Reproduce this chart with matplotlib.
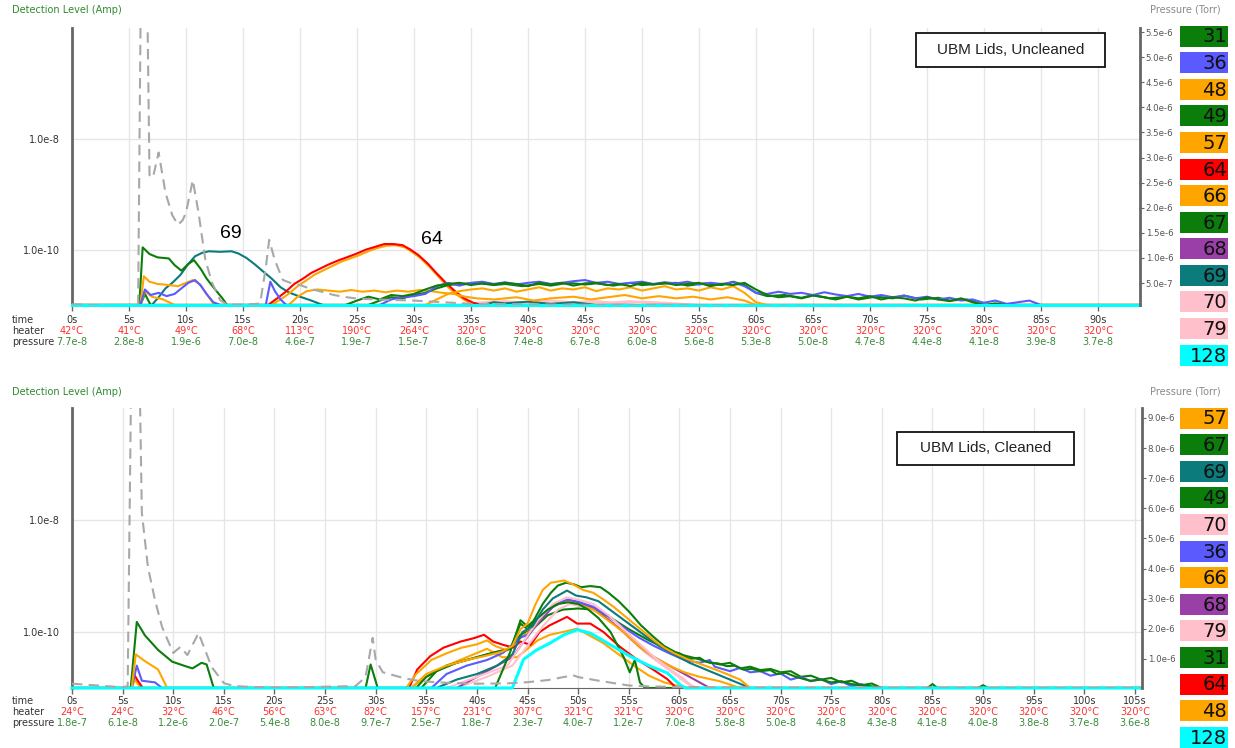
import numpy as np
import matplotlib.pyplot as plt
from matplotlib.patches import Rectangle
from matplotlib.ticker import NullLocator, FuncFormatter

W, H = 1235, 748

# ---- tick rows (time / heater / pressure) ----
top_ticks = list(range(0, 95, 5))
top_heater = [42, 41, 49, 68, 113, 190, 264] + [320] * 12
top_tick_pressure = [7.7e-8, 2.8e-8, 1.9e-6, 7.0e-8, 4.6e-7, 1.9e-7, 1.5e-7, 8.6e-8, 7.4e-8,
                     6.7e-8, 6.0e-8, 5.6e-8, 5.3e-8, 5.0e-8, 4.7e-8, 4.4e-8, 4.1e-8, 3.9e-8, 3.7e-8]

bot_ticks = list(range(0, 110, 5))
bot_heater = [24, 24, 32, 46, 56, 63, 82, 157, 231, 307, 321, 321] + [320] * 10
bot_tick_pressure = [1.8e-7, 6.1e-8, 1.2e-6, 2.0e-7, 5.4e-8, 8.0e-8, 9.7e-7, 2.5e-7, 1.8e-7, 2.3e-7,
                     4.0e-7, 1.2e-7, 7.0e-8, 5.8e-8, 5.0e-8, 4.6e-8, 4.3e-8, 4.1e-8, 4.0e-8, 3.8e-8,
                     3.7e-8, 3.6e-8]

# pressure trace between the tick readings (Torr)
top_press_extra = [(5.8, 5e-8), (6.1, 8e-6), (6.5, 8e-6), (6.8, 2.65e-6), (7.1, 2.6e-6), (7.6, 3.1e-6),
                   (8.2, 2.3e-6), (8.8, 1.85e-6), (9.3, 1.66e-6), (9.7, 1.75e-6), (10.6, 2.55e-6),
                   (11.1, 1.9e-6), (11.7, 0.96e-6), (12.3, 0.5e-6), (13.0, 0.16e-6), (13.6, 7e-8),
                   (16.5, 9e-8), (17.0, 0.8e-6), (17.3, 1.36e-6), (17.8, 0.95e-6), (18.5, 0.56e-6),
                   (19.2, 0.5e-6), (21, 0.38e-6), (22, 0.32e-6), (23, 0.26e-6), (24, 0.22e-6),
                   (27, 0.17e-6), (93.7, 3.6e-8)]
bot_press_extra = [(5.5, 1.0e-7), (5.9, 1.2e-5), (6.6, 1.2e-5), (6.9, 5.85e-6), (7.5, 4.05e-6),
                   (8.2, 2.95e-6), (8.9, 2.06e-6), (10.7, 1.4e-6), (11.4, 1.13e-6), (12.5, 1.86e-6),
                   (13.8, 7.3e-7), (16, 1.0e-7), (18, 7e-8), (22, 6e-8), (28, 1.0e-7), (29.0, 4e-7),
                   (29.7, 1.7e-6), (30.7, 5.6e-7), (32.4, 4.0e-7), (33.7, 3.0e-7), (37, 2.1e-7),
                   (43, 1.9e-7), (47, 3.0e-7), (49.5, 4.6e-7), (52, 2.8e-7), (57, 9e-8), (105.7, 3.6e-8)]

# ---- ion currents, (time s, log10 Amp) ----
u31 = [(0, -11), (24, -11), (25, -10.92), (26, -10.85), (27, -10.9), (28, -10.82), (29, -10.84), (30, -10.8),
       (31, -10.72), (32, -10.65), (33, -10.62), (34, -10.6), (35, -10.64), (36, -10.61), (37, -10.63),
       (38, -10.6), (39, -10.62), (40, -10.66), (41, -10.6), (42, -10.63), (43, -10.6), (44, -10.65),
       (45, -10.61), (46, -10.6), (47, -10.64), (48, -10.62), (49, -10.66), (50, -10.6), (51, -10.63),
       (52, -10.6), (53, -10.64), (54, -10.62), (55, -10.6), (56, -10.66), (57, -10.62), (58, -10.64),
       (59, -10.6), (60, -10.72), (61, -10.82), (62, -10.86), (63, -10.84), (64, -10.88), (65, -10.83),
       (66, -10.86), (67, -10.9), (68, -10.85), (69, -10.88), (70, -10.84), (71, -10.9), (72, -10.86),
       (73, -10.88), (74, -10.92), (75, -10.86), (76, -10.9), (77, -10.93), (78, -10.88), (79, -10.95),
       (80, -11), (81, -10.97), (82, -11), (93.7, -11)]
u36 = [(0, -11), (6.0, -11), (6.4, -10.72), (6.9, -10.82), (7.6, -10.78), (8.3, -10.84), (9.0, -10.8),
       (9.6, -10.7), (10.2, -10.6), (10.8, -10.55), (11.3, -10.65), (11.8, -10.8), (12.4, -10.95), (13, -11),
       (17.0, -11), (17.4, -10.58), (17.8, -10.75), (18.3, -10.9), (18.8, -11), (27, -11), (28, -10.9),
       (29, -10.86), (30, -10.84), (31, -10.8), (32, -10.66), (33, -10.6), (34, -10.65), (35, -10.6),
       (36, -10.58), (37, -10.62), (38, -10.59), (39, -10.63), (40, -10.6), (41, -10.58), (42, -10.62),
       (43, -10.6), (44, -10.57), (45, -10.55), (46, -10.6), (47, -10.58), (48, -10.62), (49, -10.6),
       (50, -10.58), (51, -10.62), (52, -10.59), (53, -10.61), (54, -10.58), (55, -10.63), (56, -10.6),
       (57, -10.62), (58, -10.59), (59, -10.66), (60, -10.78), (61, -10.8), (62, -10.76), (63, -10.8),
       (64, -10.78), (65, -10.82), (66, -10.77), (67, -10.81), (68, -10.84), (69, -10.8), (70, -10.85),
       (71, -10.82), (72, -10.86), (73, -10.83), (74, -10.88), (75, -10.85), (76, -10.9), (77, -10.87),
       (78, -10.92), (79, -10.9), (80, -10.96), (81, -10.92), (82, -10.98), (83, -10.95), (84, -10.92),
       (85, -11), (93.7, -11)]
u48 = [(0, -11), (6.0, -11), (6.4, -10.75), (7, -10.85), (8, -10.9), (9, -11), (31, -11), (32, -10.9),
       (33, -10.8), (34, -10.75), (35, -10.72), (36, -10.7), (37, -10.74), (38, -10.7), (39, -10.76),
       (40, -10.72), (41, -10.68), (42, -10.74), (43, -10.7), (44, -10.72), (45, -10.68), (46, -10.75),
       (47, -10.7), (48, -10.72), (49, -10.68), (50, -10.74), (51, -10.7), (52, -10.66), (53, -10.72),
       (54, -10.7), (55, -10.74), (56, -10.68), (57, -10.72), (58, -10.66), (59, -10.78), (60, -10.95),
       (61, -11), (93.7, -11)]
u49 = [(0, -11), (6.0, -11), (6.4, -10.8), (6.9, -11), (26, -11), (27, -10.92), (28, -10.86), (29, -10.88),
       (30, -10.82), (31, -10.78), (32, -10.7), (33, -10.64), (34, -10.62), (35.5, -10.6), (37, -10.64),
       (38, -10.62), (39.5, -10.66), (41, -10.62), (42, -10.65), (43.5, -10.6), (45, -10.63), (46, -10.61),
       (47.5, -10.65), (49, -10.6), (50, -10.64), (51.5, -10.62), (53, -10.6), (54, -10.65), (55.5, -10.61),
       (57, -10.64), (58, -10.58), (59, -10.64), (60, -10.78), (61, -10.84), (62.5, -10.82), (64, -10.87),
       (65, -10.82), (66.5, -10.88), (68, -10.85), (69, -10.9), (70.5, -10.85), (72, -10.88), (73, -10.83),
       (74.5, -10.9), (76, -10.87), (77, -10.92), (78.5, -10.9), (80, -11), (93.7, -11)]
u57 = [(0, -11), (6.0, -11), (6.3, -10.48), (6.8, -10.58), (7.5, -10.62), (8.5, -10.64), (9.3, -10.66),
       (10.0, -10.6), (10.6, -10.55), (11.2, -10.62), (11.8, -10.8), (12.5, -11), (19.0, -11), (19.8, -10.85),
       (20.6, -10.75), (21.5, -10.72), (22.5, -10.74), (23.5, -10.76), (24.5, -10.73), (25.5, -10.76),
       (26.5, -10.74), (27.5, -10.77), (28.5, -10.74), (29.5, -10.76), (30.5, -10.73), (31.5, -10.75),
       (32.5, -10.78), (33.5, -10.8), (34.5, -10.85), (35.5, -10.88), (37, -10.9), (39, -10.86),
       (40.5, -10.92), (42, -10.88), (44, -10.85), (45.5, -10.9), (47, -10.86), (48.5, -10.82), (50, -10.88),
       (51.5, -10.84), (53, -10.88), (54.5, -10.85), (56, -10.9), (57.5, -10.86), (59, -10.92), (60, -11),
       (93.7, -11)]
u64 = [(0, -11), (17.2, -11), (18, -10.88), (18.7, -10.77), (19.5, -10.62), (20.3, -10.52), (21, -10.42),
       (21.7, -10.35), (22.5, -10.27), (23.3, -10.2), (24.1, -10.14), (25, -10.07), (25.8, -10.0),
       (26.6, -9.95), (27.4, -9.9), (28.2, -9.9), (29.0, -9.92), (29.7, -10.0), (30.4, -10.1), (31.2, -10.25),
       (32, -10.43), (32.8, -10.6), (33.6, -10.75), (34.4, -10.88), (35.2, -10.96), (36, -11), (93.7, -11)]
u66 = [(0, -11), (17.5, -11), (18.3, -10.9), (19, -10.8), (19.8, -10.66), (20.6, -10.55), (21.3, -10.45),
       (22, -10.38), (22.8, -10.3), (23.6, -10.22), (24.4, -10.16), (25.2, -10.1), (26, -10.03),
       (26.8, -9.97), (27.6, -9.93), (28.4, -9.92), (29.2, -9.96), (29.9, -10.05), (30.6, -10.16),
       (31.4, -10.32), (32.2, -10.5), (33, -10.68), (33.8, -10.82), (34.6, -10.93), (35.4, -11), (93.7, -11)]
u67 = [(0, -11), (5.9, -11), (6.2, -9.96), (6.8, -10.08), (7.5, -10.14), (8.5, -10.16), (9.0, -10.28),
       (9.6, -10.38), (10.2, -10.26), (10.7, -10.19), (11.3, -10.35), (11.8, -10.52), (12.4, -10.68),
       (13.2, -10.88), (13.6, -11), (93.7, -11)]
u68 = [(0, -11), (93.7, -11)]
u69 = [(0, -11), (7.0, -11), (7.6, -10.86), (8.2, -10.7), (8.8, -10.6), (9.5, -10.46), (10.2, -10.26),
       (10.8, -10.12), (11.4, -10.06), (12, -10.03), (13, -10.04), (14, -10.03), (14.6, -10.07),
       (15.3, -10.15), (16, -10.26), (16.8, -10.4), (17.5, -10.52), (18.3, -10.68), (19, -10.77), (20, -10.85),
       (21, -10.92), (22, -11), (36, -11), (37, -10.95), (38, -10.97), (40, -10.94), (42, -10.98),
       (44, -10.95), (46, -11), (93.7, -11)]
u70 = [(0, -11), (34, -11), (36, -10.95), (38, -10.93), (40, -10.96), (42, -10.92), (44, -10.95),
       (46, -10.93), (48, -10.97), (50, -10.94), (52, -10.96), (55, -11), (93.7, -11)]
u79 = [(0, -11), (37, -11), (39, -10.96), (41, -10.94), (43, -10.97), (45, -10.94), (47, -10.96),
       (49, -10.93), (51, -10.97), (53, -11), (93.7, -11)]
u128 = [(0, -11), (93.7, -11)]

b31 = [(0, -11), (34.5, -11), (36, -10.7), (38, -10.55), (40, -10.45), (42, -10.35), (43.3, -10.3),
       (44.3, -10.05), (45.5, -9.95), (47, -9.7), (48.5, -9.6), (50, -9.58), (51.5, -9.6), (53, -9.72),
       (55, -9.95), (57, -10.15), (59, -10.33), (60, -10.38), (61, -10.48), (62, -10.46), (62.5, -10.52),
       (64, -10.58), (65, -10.55), (66, -10.65), (67, -10.62), (68, -10.68), (69, -10.66), (70, -10.72),
       (71, -10.7), (72, -10.8), (73, -10.78), (74, -10.85), (75, -10.82), (76, -10.9), (77, -10.87),
       (78, -10.95), (79, -10.92), (80, -11), (84.5, -11), (85, -10.93), (85.5, -11), (89.5, -11),
       (90, -10.95), (90.5, -11), (105.7, -11)]
b36 = [(0, -11), (5.9, -11), (6.4, -10.6), (6.9, -10.87), (8.2, -10.9), (8.9, -11), (35.5, -11),
       (37, -10.75), (39, -10.6), (41, -10.5), (42.6, -10.37), (44.3, -10.1), (45, -10.05), (46.5, -9.7),
       (48, -9.48), (49, -9.42), (50, -9.46), (51.5, -9.55), (53, -9.72), (54.5, -9.92), (56, -10.1),
       (57.5, -10.25), (59, -10.38), (60.5, -10.5), (62, -10.55), (63, -10.5), (63.5, -10.62), (65, -10.7),
       (66, -10.64), (67, -10.72), (68, -10.7), (69, -10.78), (70, -10.74), (71, -10.85), (72, -10.8),
       (73, -10.88), (74, -10.84), (75, -10.93), (76, -10.88), (77, -10.97), (78, -10.93), (79, -11),
       (105.7, -11)]
b48 = [(0, -11), (5.9, -11), (6.2, -10.85), (6.8, -11), (33.5, -11), (35, -10.8), (37, -10.6), (39, -10.45),
       (41, -10.3), (42.5, -10.45), (44, -10.45), (45, -10.3), (46, -10.15), (47.2, -10.05), (48.5, -10.0),
       (49.9, -9.94), (51, -10.05), (52.5, -10.2), (54, -10.4), (55.5, -10.6), (57, -10.78), (58.5, -10.9),
       (60, -10.97), (61, -11), (105.7, -11)]
b49 = [(0, -11), (5.8, -11), (6.4, -9.82), (7.2, -10.06), (8.5, -10.32), (9.9, -10.53), (11.2, -10.61),
       (11.9, -10.65), (12.8, -10.55), (13.3, -10.58), (14.0, -11), (29.0, -11), (29.5, -10.58), (30.2, -11),
       (34, -11), (35, -10.8), (37, -10.6), (39, -10.5), (41, -10.4), (43.3, -10.3), (44.3, -9.85),
       (45, -9.95), (46, -9.75), (47, -9.6), (48, -9.5), (49, -9.47), (50, -9.5), (51, -9.6), (52, -9.75),
       (53.2, -10.0), (54.5, -10.45), (55.1, -10.72), (55.6, -10.5), (56.1, -10.9), (56.6, -11), (105.7, -11)]
b57 = [(0, -11), (5.9, -11), (6.3, -10.4), (7.2, -10.52), (8.5, -10.67), (9.4, -11), (33.5, -11),
       (35, -10.75), (37, -10.6), (39, -10.5), (41, -10.42), (42.5, -10.35), (43.5, -10.25), (44.3, -9.95),
       (45, -9.85), (45.8, -9.5), (46.5, -9.25), (47.3, -9.12), (48.0, -9.1), (48.6, -9.08), (49.5, -9.15),
       (50.5, -9.25), (51.5, -9.3), (52.5, -9.42), (53.5, -9.55), (54.5, -9.7), (55.5, -9.85), (56.5, -10.0),
       (57.5, -10.15), (58.5, -10.28), (59.5, -10.38), (61, -10.5), (62.5, -10.6), (64, -10.7), (66, -10.85),
       (67, -11), (105.7, -11)]
b64 = [(0, -11), (5.8, -11), (6.1, -10.75), (6.5, -10.87), (7, -11), (33.3, -11), (34.1, -10.67),
       (35.4, -10.43), (36.7, -10.28), (38.4, -10.17), (39.7, -10.11), (40.7, -10.05), (41.6, -10.17),
       (42.6, -10.23), (43.6, -10.28), (44.3, -10.17), (45.3, -10.23), (46.2, -10.0), (47.2, -9.88),
       (48.9, -9.73), (49.9, -9.85), (51.2, -9.85), (52.5, -10.0), (54.1, -10.26), (55.8, -10.49),
       (57.4, -10.67), (58.8, -10.84), (59.7, -11), (105.7, -11)]
b66 = [(0, -11), (33.0, -11), (34.0, -10.75), (35.5, -10.5), (37, -10.38), (38.5, -10.28), (40, -10.22),
       (41, -10.15), (41.8, -10.25), (43, -10.33), (44.3, -10.1), (45.5, -9.95), (46.5, -9.7), (47.5, -9.52),
       (48.8, -9.45), (50, -9.5), (51.5, -9.6), (53, -9.8), (54.5, -10.0), (56, -10.25), (57.5, -10.45),
       (59, -10.6), (60.5, -10.72), (62, -10.8), (64, -10.88), (66, -11), (105.7, -11)]
b67 = [(0, -11), (41.8, -11), (42.5, -10.7), (43.3, -10.35), (44.3, -9.79), (45.0, -9.9), (45.6, -9.8),
       (46.5, -9.5), (47.3, -9.3), (48.0, -9.17), (48.8, -9.12), (49.6, -9.15), (50.3, -9.2), (51.2, -9.18),
       (52.2, -9.2), (53.0, -9.3), (54.0, -9.45), (55.1, -9.65), (56.2, -9.88), (57.4, -10.08), (58.5, -10.25),
       (59.7, -10.37), (60.5, -10.42), (61.4, -10.46), (62.2, -10.5), (63.0, -10.55), (63.8, -10.56),
       (64.7, -10.61), (65.5, -10.6), (66.3, -10.67), (67.2, -10.66), (68, -10.7), (69, -10.68),
       (69.6, -10.75), (70.5, -10.73), (71.5, -10.8), (72.9, -10.87), (74, -10.85), (75, -10.9),
       (76, -10.88), (77, -10.93), (78, -10.95), (79, -10.97), (80, -11), (105.7, -11)]
b68 = [(0, -11), (38, -11), (40, -10.8), (42, -10.6), (43.5, -10.45), (44.5, -10.2), (46, -9.85),
       (47.5, -9.55), (48.9, -9.43), (50, -9.48), (51.5, -9.58), (53, -9.78), (54.5, -10.0), (56, -10.25),
       (57.5, -10.45), (59, -10.6), (60.5, -10.75), (62, -10.9), (63, -11), (105.7, -11)]
b69 = [(0, -11), (36, -11), (38, -10.85), (40, -10.75), (42, -10.6), (43.5, -10.4), (44.5, -10.0),
       (45.5, -9.9), (46.5, -9.6), (47.5, -9.4), (48.9, -9.26), (49.8, -9.35), (50.8, -9.38), (52, -9.45),
       (53.5, -9.65), (55, -9.85), (56.5, -10.05), (58, -10.25), (59.5, -10.4), (61, -10.55), (63, -10.7),
       (65, -10.85), (67, -11), (105.7, -11)]
b70 = [(0, -11), (37, -11), (40, -10.8), (43, -10.6), (44.5, -10.2), (46, -9.8), (47.5, -9.5),
       (48.9, -9.38), (50, -9.42), (51.5, -9.5), (53, -9.7), (54.5, -9.95), (56, -10.2), (57.5, -10.45),
       (59, -10.65), (60.5, -10.85), (61.5, -11), (105.7, -11)]
b79 = [(0, -11), (38, -11), (41, -10.8), (43.5, -10.6), (45, -10.25), (46.5, -9.9), (48, -9.6),
       (49.2, -9.5), (50.5, -9.55), (52, -9.65), (53.5, -9.85), (55, -10.1), (56.5, -10.35), (58, -10.55),
       (59.5, -10.75), (61, -10.95), (62, -11), (105.7, -11)]
b128 = [(0, -11), (43.5, -11), (44.6, -10.49), (45.9, -10.32), (47.2, -10.2), (48.6, -10.05), (49.9, -9.96),
        (51.2, -10.02), (53.2, -10.23), (55.1, -10.43), (57.1, -10.61), (58.8, -10.73), (60.1, -10.95),
        (60.6, -11), (105.7, -11)]

top_series = {31: u31, 36: u36, 48: u48, 49: u49, 57: u57, 64: u64, 66: u66, 67: u67, 68: u68,
              69: u69, 70: u70, 79: u79, 128: u128}
bot_series = {31: b31, 36: b36, 48: b48, 49: b49, 57: b57, 64: b64, 66: b66, 67: b67, 68: b68,
              69: b69, 70: b70, 79: b79, 128: b128}

top_legend = [31, 36, 48, 49, 57, 64, 66, 67, 68, 69, 70, 79, 128]
bot_legend = [57, 67, 69, 49, 70, 36, 66, 68, 79, 31, 64, 48, 128]

COLORS = {31: '#0b7d0b', 36: '#5a5aff', 48: '#ffa500', 49: '#0b7d0b', 57: '#ffa500', 64: '#ff0000',
          66: '#ffa500', 67: '#0b7d0b', 68: '#9b3fa8', 69: '#0b7b7b', 70: '#ffc0cb', 79: '#ffc0cb',
          128: '#00ffff'}


def fx(x):
    return x / W


def fy(y):
    return 1 - y / H


def sci(v, _pos=None):
    m, e = f"{v:.1e}".split("e")
    return f"{m}e{int(e)}"


def draw_panel(fig, left, right, top, bottom, xmax, series, ticks, heater, tick_press, press_extra,
               p_lim, p_ticks, rows_dy, legend, legend_y0, title, title_box, ylab_y):
    ax = fig.add_axes([fx(left), fy(bottom), (right - left) / W, (bottom - top) / H])
    ax.set_yscale('log')
    ax.set_xlim(0, xmax)
    ax.set_ylim(1e-11, 1e-6)
    ax.set_axisbelow(True)

    for m in reversed(legend):
        if m == 128:
            continue
        pts = np.array(series[m])
        ax.plot(pts[:, 0], 10 ** pts[:, 1], color=COLORS[m], lw=1.5, zorder=3)
    # m/z 128 sits along the floor, drawn last so the baseline reads cyan
    pts = np.array(series[128])
    ax.plot(pts[:, 0], 10 ** pts[:, 1], color=COLORS[128], lw=2.2, zorder=4, clip_on=False)

    ax.set_xticks(ticks)
    ax.set_xticklabels([])
    ax.tick_params(axis='x', length=4, color='#666666', width=1)
    ax.set_yticks([1e-10, 1e-8])
    ax.set_yticklabels(['1.0e-10', '1.0e-8'])
    ax.yaxis.set_minor_locator(NullLocator())
    ax.tick_params(axis='y', length=0, labelsize=7, labelcolor='#333333', pad=9)
    ax.grid(True, color='#e6e6e6', lw=1)
    for s in ('top', 'right'):
        ax.spines[s].set_visible(False)
    ax.spines['left'].set_color('#666666')
    ax.spines['left'].set_linewidth(2)
    ax.spines['bottom'].set_color('#666666')

    # pressure trace on the right axis
    pts = sorted(list(zip(ticks, tick_press)) + press_extra)
    pts = [p for p in pts if p[0] <= xmax]
    axp = ax.twinx()
    axp.plot([p[0] for p in pts], [p[1] for p in pts], color='#a8a8a8', lw=1.5,
             ls=(0, (5, 3)), zorder=2)
    axp.set_ylim(*p_lim)
    axp.set_yticks(p_ticks)
    axp.yaxis.set_major_formatter(FuncFormatter(sci))
    axp.tick_params(axis='y', length=3, labelsize=6.2, labelcolor='#555555', color='#666666', pad=1)
    for s in ('top', 'left', 'bottom'):
        axp.spines[s].set_visible(False)
    axp.spines['right'].set_color('#666666')
    axp.spines['right'].set_linewidth(2)

    # time / heater / pressure rows
    for t, h, p in zip(ticks, heater, tick_press):
        kw = dict(xy=(t, 0), xycoords=('data', 'axes fraction'), textcoords='offset pixels',
                  ha='center', va='center', fontsize=7, annotation_clip=False)
        ax.annotate(f"{t}s", xytext=(0, -rows_dy[0]), color='#333333', **kw)
        ax.annotate(f"{h}°C", xytext=(0, -rows_dy[1]), color='#ff3030', **kw)
        ax.annotate(sci(p), xytext=(0, -rows_dy[2]), color='#3a8a3a', **kw)
    for name, dy in zip(['time', 'heater', 'pressure'], rows_dy):
        fig.text(fx(12), fy(bottom + dy), name, fontsize=7, color='#333333', ha='left', va='center')

    fig.text(fx(12), fy(ylab_y), 'Detection Level (Amp)', fontsize=7, color='#2e8b2e',
             ha='left', va='center')
    fig.text(fx(1150), fy(ylab_y), 'Pressure (Torr)', fontsize=7, color='#8a8a8a',
             ha='left', va='center')

    # mass legend chips
    for i, m in enumerate(legend):
        yc = legend_y0 + 26.6 * i
        fig.add_artist(Rectangle((fx(1180), fy(yc + 10.5)), 48 / W, 21 / H,
                                 transform=fig.transFigure, facecolor=COLORS[m],
                                 edgecolor='none'))
        fig.text(fx(1227), fy(yc + 1), str(m), fontsize=14, color='#111111',
                 ha='right', va='center')

    # sample label box
    x0, y0, x1, y1 = title_box
    fig.add_artist(Rectangle((fx(x0), fy(y1)), (x1 - x0) / W, (y1 - y0) / H,
                             transform=fig.transFigure, facecolor='white',
                             edgecolor='#111111', lw=1.3, zorder=10))
    fig.text(fx((x0 + x1) / 2), fy((y0 + y1) / 2), title, fontsize=11, color='#222222',
             family='Liberation Sans', ha='center', va='center', zorder=11)
    return ax


fig = plt.figure(figsize=(W / 100, H / 100), dpi=100)

# pressure zero sits a few pixels below the current floor on both panels
draw_panel(fig, 72, 1140, 28, 305, 93.7, top_series, top_ticks, top_heater, top_tick_pressure,
           top_press_extra, (0.062e-6, 5.58e-6), np.arange(5e-7, 5.6e-6, 5e-7), (15, 26, 37),
           top_legend, 36, 'UBM Lids, Uncleaned', (916, 33, 1105, 67), 10)
draw_panel(fig, 72, 1142, 408, 688, 105.7, bot_series, bot_ticks, bot_heater, bot_tick_pressure,
           bot_press_extra, (0.037e-6, 9.33e-6), np.arange(1e-6, 9.5e-6, 1e-6), (13, 24, 35),
           bot_legend, 418, 'UBM Lids, Cleaned', (897, 432, 1074, 465), 392)

# peak labels in the uncleaned run
fig.text(fx(231), fy(233), '69', fontsize=14, family='Liberation Sans', ha='center', va='center')
fig.text(fx(432), fy(239), '64', fontsize=14, family='Liberation Sans', ha='center', va='center')

fig.savefig('out.png', dpi=100)
